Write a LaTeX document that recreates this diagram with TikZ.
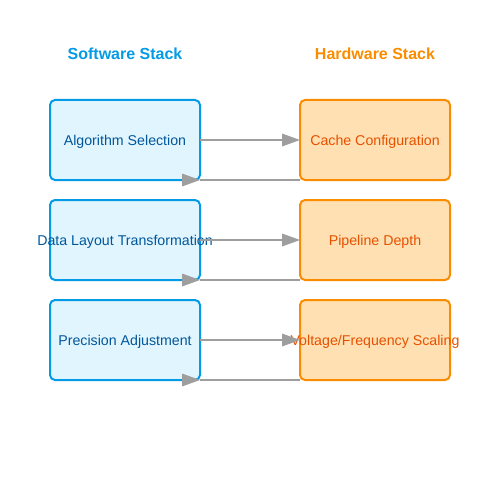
\documentclass[tikz,border=0pt]{standalone}
\usepackage{fontspec}
\setmainfont{Liberation Sans}
\definecolor{swstroke}{HTML}{039BE5}
\definecolor{swfill}{HTML}{E1F5FE}
\definecolor{swtext}{HTML}{01579B}
\definecolor{hwstroke}{HTML}{FB8C00}
\definecolor{hwfill}{HTML}{FFE0B2}
\definecolor{hwtext}{HTML}{E65100}
\definecolor{hwhead}{HTML}{FB8C00}
\definecolor{conn}{HTML}{9E9E9E}
\newcommand{\boxtxt}[1]{\makebox[0pt][c]{#1}}
\begin{document}
\begin{tikzpicture}[x=1pt,y=-1pt,
  basebox/.style={line width=2pt,outer sep=0pt,rounded corners=5pt,minimum width=150pt,minimum height=80pt,inner sep=0pt,text height=11pt,text depth=1pt,font=\fontsize{14.2pt}{16pt}\selectfont},
  swbox/.style={basebox,draw=swstroke,fill=swfill,text=swtext},
  hwbox/.style={basebox,draw=hwstroke,fill=hwfill,text=hwtext},
  head/.style={font=\bfseries\fontsize{16pt}{18pt}\selectfont,anchor=base,inner sep=0pt},
  link/.style={draw=conn,line width=2pt},
  tipfill/.style={fill=conn}]
\useasboundingbox (0,0) rectangle (500,500);
\node[head,text=swstroke] (swh) at (125,60) {Software Stack};
\node[head,text=hwhead] (hwh) at (375,60) {Hardware Stack};
\node[swbox] (sw1) at (125,140) {\boxtxt{Algorithm Selection}};
\node[swbox] (sw2) at (125,240) {\boxtxt{Data Layout Transformation}};
\node[swbox] (sw3) at (125,340) {\boxtxt{Precision Adjustment}};
\node[hwbox] (hw1) at (375,140) {\boxtxt{Cache Configuration}};
\node[hwbox] (hw2) at (375,240) {\boxtxt{Pipeline Depth}};
\node[hwbox] (hw3) at (375,340) {\boxtxt{Voltage/Frequency Scaling}};
\foreach \i in {1,2,3}{
  \draw[link] (sw\i.east) -- ([xshift=-17pt]hw\i.west);
  \fill[tipfill] (hw\i.west) -- ++(-18,-6.5) -- ++(0,13) -- cycle;
  \draw[link] (hw\i.south west) -- (sw\i.south east);
  \fill[tipfill] (sw\i.south east) -- ++(-18,-6.5) -- ++(0,13) -- cycle;
}
\end{tikzpicture}
\end{document}
